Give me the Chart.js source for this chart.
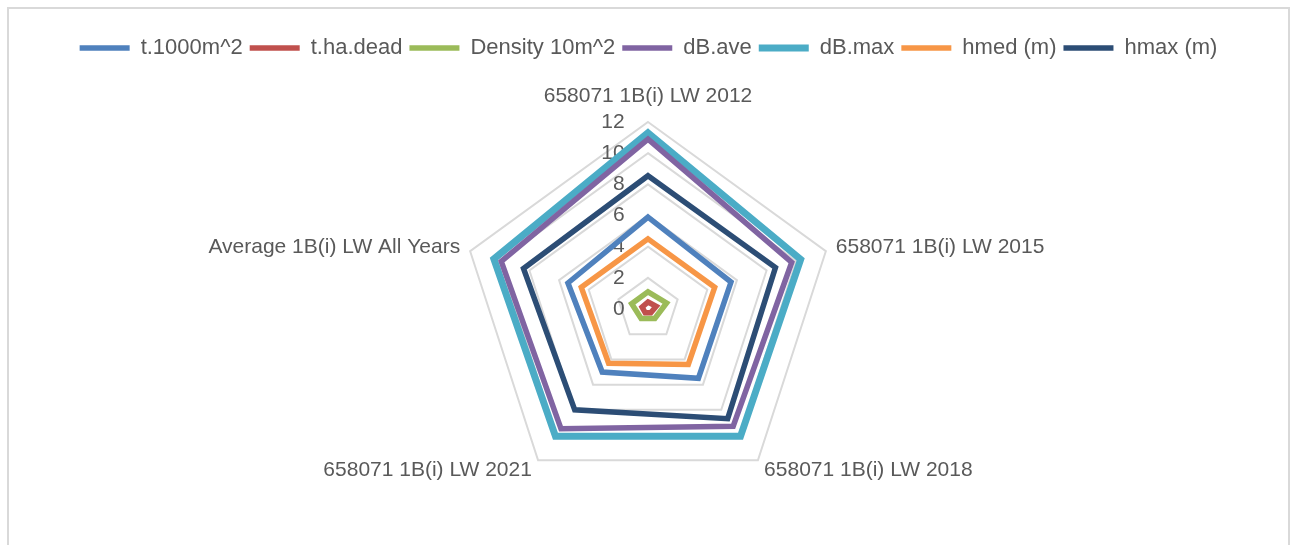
<!DOCTYPE html>
<html>
<head>
<meta charset="utf-8">
<script src="https://cdn.jsdelivr.net/npm/chart.js@4.4.1/dist/chart.umd.min.js"></script>
<style>
  html, body { margin: 0; padding: 0; background: #fff; }
  #frame { position: absolute; left: 7px; top: 7px; width: 1279px; height: 560px; border: 2px solid #d9d9d9; }
  #wrap { position: absolute; left: 0; top: 0; width: 1295px; height: 545px; }
</style>
</head>
<body>
<div id="frame"></div>
<div id="wrap"><canvas id="myCanvas"></canvas></div>
<script>
const categories = [
  "658071 1B(i) LW 2012",
  "658071 1B(i) LW 2015",
  "658071 1B(i) LW 2018",
  "658071 1B(i) LW 2021",
  "Average 1B(i) LW All Years"
];
const seriesNames = ["t.1000m^2", "t.ha.dead", "Density 10m^2", "dB.ave", "dB.max", "hmed (m)", "hmax (m)"];
const t1000m2   = [5.9, 5.6, 5.5, 5.0, 5.4];
const thaDead   = [0.45, 0.55, 0.3, 0.3, 0.4];
const density   = [1.1, 1.25, 0.75, 0.75, 1.1];
const dbAve     = [10.9, 9.7, 9.3, 9.5, 9.9];
const dbMax     = [11.3, 10.3, 10.1, 10.1, 10.4];
const hmed      = [4.5, 4.5, 4.4, 4.3, 4.5];
const hmax      = [8.55, 8.6, 8.7, 8.0, 8.4];
const tickMax = 12;
const tickStep = 2;

const colors = ['#4f81bd', '#c0504d', '#9bbb59', '#8064a2', '#4bacc6', '#f79646', '#2c4d75'];
const values = [t1000m2, thaDead, density, dbAve, dbMax, hmed, hmax];
const FONT = "'Liberation Sans', Arial, sans-serif";
const GREY = '#595959';

// push the plot down a bit below the legend
const legendGap = {
  id: 'legendGap',
  beforeInit(chart) {
    const fit = chart.legend.fit;
    chart.legend.fit = function () {
      fit.bind(chart.legend)();
      this.height += 18;
    };
  }
};

const ctx = document.getElementById("myCanvas").getContext("2d");
const chart = new Chart(ctx, {
  type: 'radar',
  data: {
    labels: categories,
    datasets: seriesNames.map((name, i) => ({
      label: name,
      data: values[i],
      borderColor: colors[i],
      backgroundColor: colors[i],
      borderWidth: i === 4 ? 7 : 5.5,
      borderCapStyle: 'round',
      borderJoinStyle: 'miter',
      fill: false,
      pointRadius: 0,
      pointHoverRadius: 0,
      tension: 0
    }))
  },
  options: {
    responsive: true,
    maintainAspectRatio: false,
    animation: false,
    layout: { padding: { top: 30, left: 2, right: 0, bottom: 29 } },
    plugins: {
      legend: {
        position: 'top',
        labels: {
          usePointStyle: true,
          pointStyle: 'line',
          pointStyleWidth: 50,
          boxHeight: 6,
          padding: 7,
          color: GREY,
          font: { family: FONT, size: 22 }
        }
      },
      tooltip: { enabled: false }
    },
    scales: {
      r: {
        min: -0.001,
        max: tickMax,
        angleLines: { display: false },
        grid: {
          color: c => c.index === 0 ? 'rgba(0,0,0,0)' : '#d9d9d9',
          lineWidth: 2
        },
        ticks: {
          stepSize: tickStep,
          showLabelBackdrop: false,
          backdropPadding: 0,
          color: GREY,
          font: { family: FONT, size: 21 },
          // Excel puts the numbers left of the axis
          callback: v => {
            const s = String(Math.round(v));
            return s + ' '.repeat(2 * s.length + 8);
          }
        },
        pointLabels: {
          color: GREY,
          font: { family: FONT, size: 21, lineHeight: 0.1 },
          padding: c => c.index === 0 ? 14.4 : 0
        }
      }
    }
  },
  plugins: [legendGap]
});
</script>
</body>
</html>
